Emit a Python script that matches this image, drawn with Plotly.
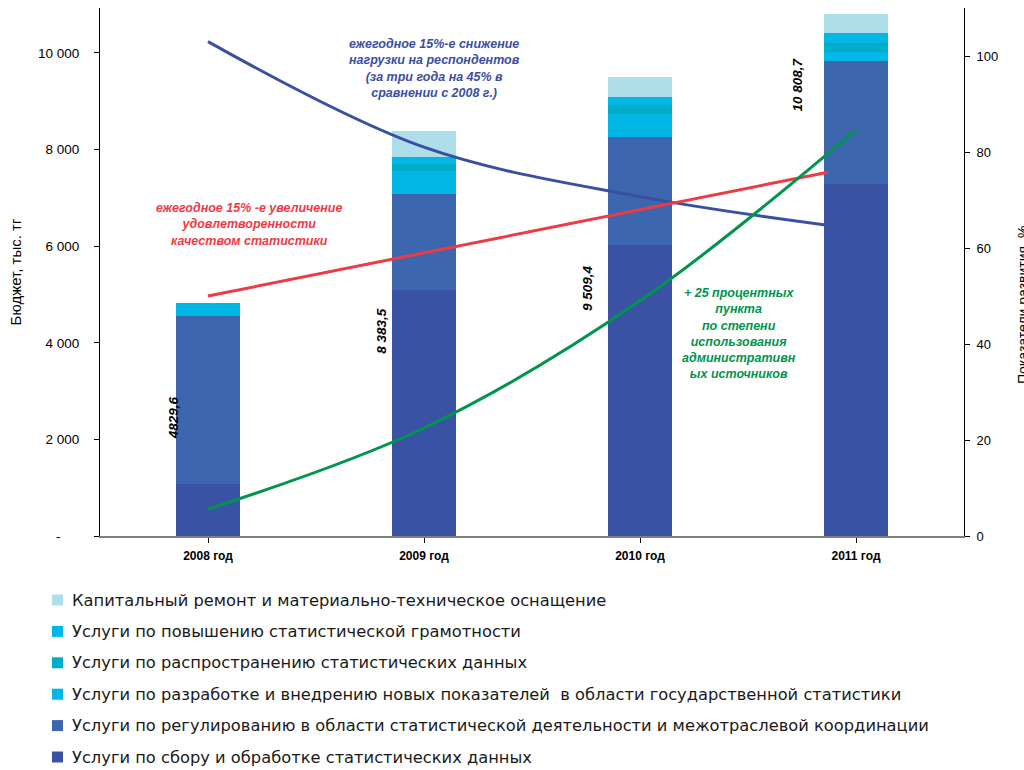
import plotly.graph_objects as go

# Budget by service line, thousand tenge (stacked bars, left axis)
years = ["2008 год", "2009 год", "2010 год", "2011 год"]
collection = [1075.0, 5085.5, 6018.4, 7281.7]      # сбор и обработка
regulation = [3489.0, 1986.0, 2231.0, 2551.0]      # регулирование и координация
new_indicators = [265.6, 475.0, 487.0, 188.0]      # разработка новых показателей
dissemination = [0.0, 153.0, 182.0, 188.0]         # распространение данных
literacy = [0.0, 140.0, 167.0, 209.0]              # статистическая грамотность
capital = [0.0, 544.0, 424.0, 391.0]               # капитальный ремонт
total_labels = ["4829,6", "8 383,5", "9 509,4", "10 808,7"]

# Development indicators, % (lines, right axis)
line_years = [2008, 2009, 2010, 2011]
burden_x = [2008, 2009, 2010, 2010.86]
burden = [103.0, 81.0, 70.7, 64.8]
satisfaction_x = [2008, 2010.87]
satisfaction = [50.0, 75.8]
admin_sources = [5.6, 22.5, 49.0, 84.6]

series = [
    ("Услуги по сбору и обработке статистических данных", collection, "#3A52A3"),
    ("Услуги по регулированию в области статистической деятельности и межотраслевой координации", regulation, "#3C66AD"),
    ("Услуги по разработке и внедрению новых показателей  в области государственной статистики", new_indicators, "#00B7E6"),
    ("Услуги по распространению статистических данных", dissemination, "#00ADC8"),
    ("Услуги по повышению статистической грамотности", literacy, "#00B7E6"),
    ("Капитальный ремонт и материально-техническое оснащение", capital, "#AEDEEA"),
]

fig = go.Figure()
for name, vals, color in series:
    fig.add_trace(go.Bar(
        x=years, y=vals, name=name, width=0.3,
        marker=dict(color=color, line=dict(width=0)),
        showlegend=False, xaxis="x", yaxis="y",
    ))

line_font = "Liberation Sans, Arial, sans-serif"
fig.add_trace(go.Scatter(
    x=burden_x, y=burden, mode="lines", line=dict(color="#3A4FA3", width=3, shape="spline"),
    xaxis="x2", yaxis="y2", showlegend=False,
))
fig.add_trace(go.Scatter(
    x=satisfaction_x, y=satisfaction, mode="lines", line=dict(color="#EE3A45", width=3),
    xaxis="x2", yaxis="y2", showlegend=False,
))
fig.add_trace(go.Scatter(
    x=line_years, y=admin_sources, mode="lines", line=dict(color="#00944C", width=3, shape="spline"),
    xaxis="x2", yaxis="y2", showlegend=False,
))

annotations = []
shapes = []

# rotated budget totals
label_pos = [(2007.84, 24.6), (2008.80, 42.7), (2009.76, 51.7), (2010.73, 94.0)]
for txt, (lx, ly) in zip(total_labels, label_pos):
    annotations.append(dict(
        x=lx, y=ly, xref="x2", yref="y2", text=f"<b><i>{txt}</i></b>", textangle=-90,
        showarrow=False, font=dict(family=line_font, size=13.5, color="#000000"),
    ))

notes = [
    ("ежегодное 15%-е снижение<br>нагрузки на респондентов<br>(за три года на 45% в<br>сравнении с 2008 г.)",
     2009.05, 97.3, "#3A4FA3"),
    ("ежегодное 15% -е увеличение<br>удовлетворенности<br>качеством статистики",
     2008.19, 64.8, "#EE3A45"),
    ("+ 25 процентных<br>пункта<br>по степени<br>использования<br>административн<br>ых источников",
     2010.46, 42.1, "#00944C"),
]
for txt, nx, ny, col in notes:
    annotations.append(dict(
        x=nx, y=ny, xref="x2", yref="y2", text=f"<b><i>{txt}</i></b>",
        showarrow=False, align="center", font=dict(family=line_font, size=12.5, color=col),
    ))

annotations.append(dict(
    x=(1013 - 100) / 864, y=(536 - 305) / 528, xref="paper", yref="paper",
    text="Показатели развития, %", textangle=-90, showarrow=False,
    xanchor="left", yanchor="middle", font=dict(family=line_font, size=14, color="#000000"),
))

# legend block under the plot: top row is the uppermost stack segment
plot_w, plot_h, plot_l, plot_b = 864, 528, 100, 536
row_top, row_step = 600, 31.4
for k, (name, _, color) in enumerate(reversed(series)):
    cy = row_top + k * row_step
    shapes.append(dict(
        type="rect", xref="paper", yref="paper",
        x0=(52 - plot_l) / plot_w, x1=(63 - plot_l) / plot_w,
        y0=(plot_b - (cy + 5.5)) / plot_h, y1=(plot_b - (cy - 5.5)) / plot_h,
        fillcolor=color, line=dict(width=0),
    ))
    annotations.append(dict(
        x=(70 - plot_l) / plot_w, y=(plot_b - cy) / plot_h, xref="paper", yref="paper",
        text=name, showarrow=False, xanchor="left", yanchor="middle",
        font=dict(family="DejaVu Sans, sans-serif", size=16.3, color="#1A1A1A"),
    ))

fig.update_layout(
    width=1024, height=770,
    margin=dict(l=100, r=60, t=8, b=234),
    paper_bgcolor="white", plot_bgcolor="white",
    barmode="stack", bargap=0, showlegend=False,
    font=dict(family=line_font, size=13, color="#000000"),
    xaxis=dict(
        type="category", range=[-0.5, 3.5],
        tickvals=years, ticktext=[f"<b>{y}</b>" for y in years],
        tickfont=dict(size=12), ticks="outside", ticklen=5, tickcolor="#000000",
        ticklabelstandoff=3,
        showline=True, linecolor="#808080", linewidth=1.5, showgrid=False, zeroline=False,
    ),
    xaxis2=dict(overlaying="x", range=[2007.5, 2011.5], visible=False, anchor="y2"),
    yaxis=dict(
        range=[0, 10930],
        tickvals=[0, 2000, 4000, 6000, 8000, 10000],
        ticktext=["-\u00a0\u00a0\u00a0\u00a0\u00a0", "2 000", "4 000", "6 000", "8 000", "10 000"],
        tickfont=dict(size=13.5),
        ticks="outside", ticklen=5, tickcolor="#000000", ticklabelstandoff=12,
        showline=True, linecolor="#000000", linewidth=1, showgrid=False, zeroline=False,
        title=dict(text="Бюджет, тыс. тг", font=dict(size=15), standoff=12),
    ),
    yaxis2=dict(
        overlaying="y", side="right", anchor="x", range=[0, 110],
        tickvals=[0, 20, 40, 60, 80, 100], tickfont=dict(size=13),
        ticks="outside", ticklen=5, tickcolor="#000000", ticklabelstandoff=4,
        showline=True, linecolor="#000000", linewidth=1, showgrid=False, zeroline=False,
    ),
    annotations=annotations,
    shapes=shapes,
)

fig.write_html("out.html")
